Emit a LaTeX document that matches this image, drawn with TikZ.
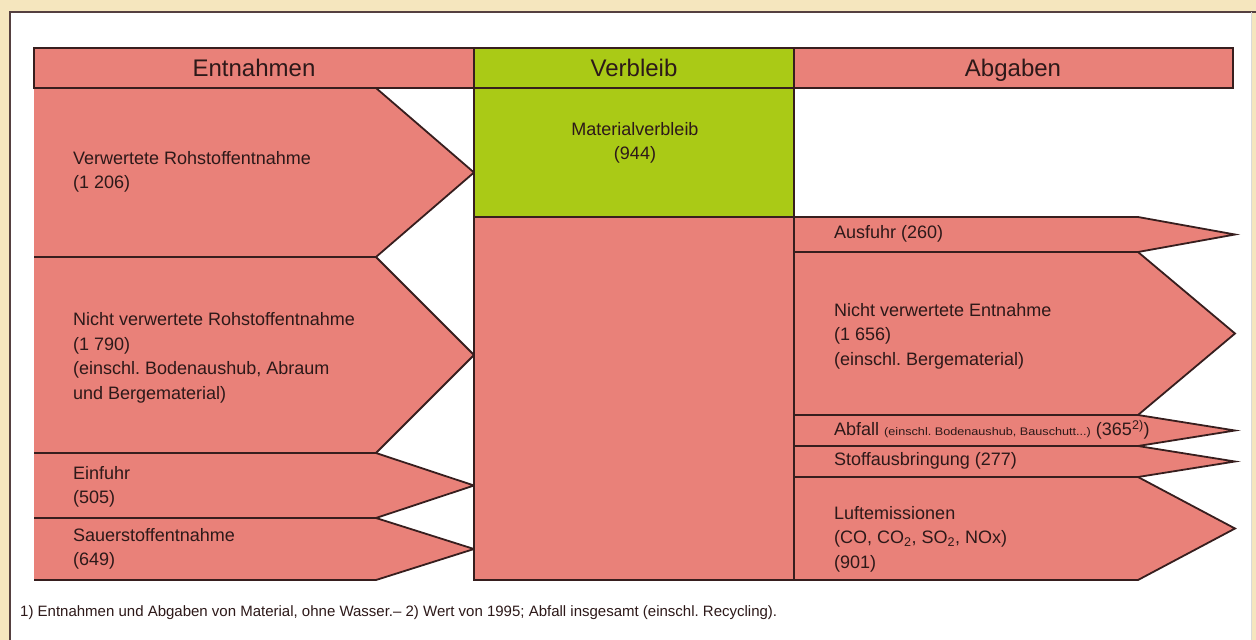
\documentclass[tikz,border=0pt]{standalone}
\usepackage{fontspec}
\setmainfont{Liberation Sans}
\frenchspacing
\definecolor{salmon}{RGB}{233,129,121}
\definecolor{lgreen}{RGB}{170,202,22}
\definecolor{beige}{RGB}{245,230,190}
\definecolor{ink}{RGB}{45,25,25}
\definecolor{edge}{RGB}{55,30,30}
\newcommand\entfill[2]{\fill[salmon] (34,#1) -- (376,#1) -- (474,{(#1+#2)/2}) -- (376,#2) -- (34,#2) -- cycle;}
\newcommand\entline[2]{\draw[shapeline] (34,#1) -- (376,#1) -- (474,{(#1+#2)/2}) -- (376,#2) -- (34,#2);}
\newcommand\abgfill[2]{\fill[salmon] (794,#1) -- (1138,#1) -- (1235,{(#1+#2)/2}) -- (1138,#2) -- (794,#2) -- cycle;}
\newcommand\abgline[2]{\draw[shapeline] (794,#1) -- (1138,#1) -- (1235,{(#1+#2)/2}) -- (1138,#2) -- (794,#2);}
\begin{document}
\begin{tikzpicture}[x=1pt,y=-1pt,
  shapeline/.style={draw=edge,line width=1.8pt,line join=miter},
  hdr/.style={font=\fontsize{24}{28}\selectfont, text=ink, inner sep=0, anchor=base},
  lbl/.style={font=\fontsize{18}{24.5}\selectfont, text=ink, align=left, anchor=west, inner sep=0},
  fnote/.style={font=\fontsize{15}{17}\selectfont, text=ink, anchor=west, inner sep=0}]
\useasboundingbox (0,0) rectangle (1256,640);
\fill[beige] (0,0) rectangle (1256,640);
\fill[white] (10,12) rectangle (1252,640);
\draw[edge!85, line width=1.5pt] (10,640) -- (10,12) -- (1256,12);
\draw[gray!30, line width=1pt] (1251,12) -- (1251,640);
% header
\filldraw[fill=salmon, shapeline] (34,48) rectangle (474,88);
\filldraw[fill=lgreen, shapeline] (474,48) rectangle (794,88);
\filldraw[fill=salmon, shapeline] (794,48) rectangle (1233,88);
\node[hdr] (hent) at (254,76) {Entnahmen};
\node[hdr] (hver) at (634,76) {Verbleib};
\node[hdr] (habg) at (1013,76) {Abgaben};
% arrows fill
\entfill{88}{257}
\entfill{257}{453}
\entfill{453}{518}
\entfill{518}{580}
\abgfill{217}{252}
\abgfill{252}{415}
\abgfill{415}{446}
\abgfill{446}{477}
\abgfill{477}{580}
% arrows lines
\entline{88}{257}
\entline{257}{453}
\entline{453}{518}
\entline{518}{580}
\abgline{217}{252}
\abgline{252}{415}
\abgline{415}{446}
\abgline{446}{477}
\abgline{477}{580}
% Verbleib column
\filldraw[fill=lgreen, shapeline] (474,88) rectangle (794,217);
\filldraw[fill=salmon, shapeline] (474,217) rectangle (794,580);
% labels
\node[lbl] (vr) at (73,172) {Verwertete Rohstoffentnahme\\(1 206)};
\node[lbl] (nvr) at (73,358) {Nicht verwertete Rohstoffentnahme\\(1 790)\\(einschl. Bodenaushub, Abraum\\und Bergematerial)};
\node[lbl] (ein) at (73,487) {Einfuhr\\(505)};
\node[lbl] (sau) at (73,549) {Sauerstoffentnahme\\(649)};
\node[lbl, align=center, anchor=center] (mat) at (635,143) {Materialverbleib\\(944)};
\node[lbl] (aus) at (834,234) {Ausfuhr (260)};
\node[lbl] (nve) at (834,336) {Nicht verwertete Entnahme\\(1 656)\\(einschl. Bergematerial)};
\node[lbl] (abf) at (834,430) {Abfall \scalebox{1.15}[1]{\fontsize{11}{13}\selectfont (einschl. Bodenaushub, Bauschutt...)} (365\textsuperscript{2)})};
\node[lbl] (sto) at (834,461) {Stoffausbringung (277)};
\node[lbl] (luf) at (834,539) {Luftemissionen\\(CO, CO\textsubscript{2}, SO\textsubscript{2}, NOx)\\(901)};
\node[fnote] (fn) at (20,613) {1) Entnahmen und Abgaben von Material, ohne Wasser.-- 2) Wert von 1995; Abfall insgesamt (einschl. Recycling).};
\end{tikzpicture}
\end{document}
